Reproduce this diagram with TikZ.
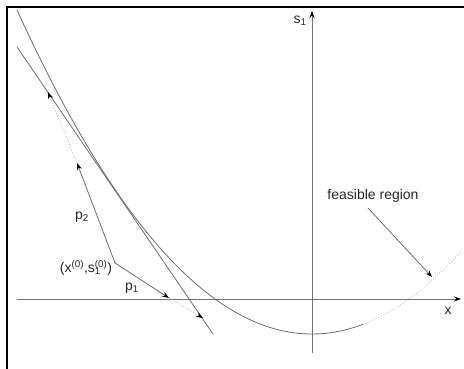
\documentclass[tikz,border=0pt]{standalone}
\usepackage{fontspec}
\setmainfont{Liberation Sans}
\usetikzlibrary{arrows.meta}
\tikzset{
  frameline/.style={line width=1.4pt, black},
  axisline/.style={line width=0.9pt, gray!90!black},
  curveline/.style={line width=0.8pt, gray!85!black},
  dotline/.style={line width=0.8pt, gray!60, dotted},
  tip/.style={-{Stealth[length=7pt,width=5pt,black]}},
  lbl/.style={inner sep=0pt, text=black!85, font=\fontsize{14}{16}\selectfont}
}
\begin{document}
\begin{tikzpicture}[x=1pt,y=-1pt]
\useasboundingbox (0,0) rectangle (464,369);
% frame
\draw[frameline] (7,369) -- (7,7) -- (464,7);
% axes
\coordinate (xs) at (17,299);
\coordinate (xe) at (461,299);
\coordinate (ys) at (312,353);
\coordinate (ye) at (312,11);
\draw[axisline,tip] (xs) -- (xe);
\draw[axisline,tip] (ys) -- (ye);
\node[lbl] (xl) at (448,311) {x};
\node[lbl] (sl) at (300,21) {s\textsubscript{1}};
% parabola
\draw[curveline] plot[domain=17:363,samples=80] (\x,{334-0.00372*(\x-312)*(\x-312)});
\draw[dotline] plot[domain=363:461,samples=30] (\x,{334-0.00372*(\x-312)*(\x-312)});
% tangent line
\coordinate (ts) at (17,47);
\coordinate (te) at (213,334);
\draw[curveline] (ts) -- (te);
% start point and steps
\coordinate (x0) at (115,263);
\coordinate (p2a) at (77,163);
\coordinate (p2b) at (48,92);
\coordinate (p1a) at (169,298);
\coordinate (p1b) at (203,318);
\draw[curveline,tip] (x0) -- (p2a);
\draw[dotline,tip] (p2a) -- (p2b);
\draw[curveline,tip] (x0) -- (p1a);
\draw[dotline,tip] (p1a) -- (p1b);
\node[lbl] (p2l) at (82,217) {p\textsubscript{2}};
\node[lbl] (p1l) at (132,288) {p\textsubscript{1}};
\node[lbl] (x0l) at (86,268) {(x\textsuperscript{(0)},s\rlap{\textsubscript{1}}\textsuperscript{(0)})};
% feasible region
\node[lbl] (fr) at (373,196) {feasible region};
\coordinate (fra) at (432,277);
\draw[curveline,tip] (368,208) -- (fra);
\end{tikzpicture}
\end{document}
